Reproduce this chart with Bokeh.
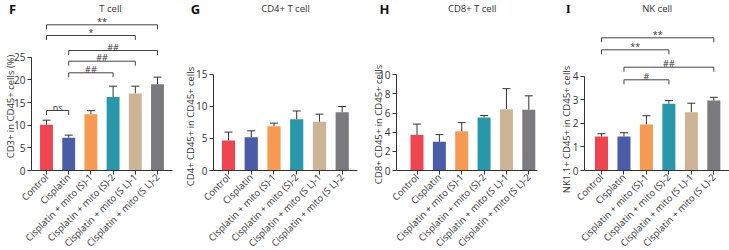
import math
from bokeh.plotting import figure
from bokeh.models import ColumnDataSource, Whisker, TeeHead, Label, Range1d, FixedTicker
from bokeh.layouts import row
from bokeh.embed import file_html
from bokeh.resources import INLINE
from bokeh.core.properties import value

# ---------------- data ----------------
categories = ["Control", "Cisplatin", "Cisplatin + mito (S)-1", "Cisplatin + mito (S)-2",
              "Cisplatin + mito (S L)-1", "Cisplatin + mito (S L)-2"]
bar_colors = ["#EF4550", "#4A5BA8", "#F79A52", "#2897A9", "#CDB496", "#7A7A7E"]

t_cell_mean = [10.1, 7.2, 12.4, 16.2, 17.0, 19.0]
t_cell_err = [1.0, 0.6, 0.8, 2.4, 1.6, 1.6]
cd4_mean = [4.7, 5.2, 6.9, 8.0, 7.6, 9.1]
cd4_err = [1.3, 1.0, 0.5, 1.3, 1.2, 0.9]
cd8_mean = [3.7, 3.0, 4.1, 5.55, 6.4, 6.35]
cd8_err = [1.15, 0.75, 0.9, 0.2, 2.15, 1.45]
nk_mean = [1.44, 1.44, 1.95, 2.83, 2.47, 2.96]
nk_err = [0.12, 0.16, 0.37, 0.13, 0.38, 0.14]

t_cell_ticks = [0, 5, 10, 15, 20, 25]
cd4_ticks = [0, 5, 10, 15]
cd8_ticks = [0, 2, 4, 6, 8, 10]
nk_ticks = [0, 1, 2, 3, 4]

# significance comparisons: (group a, group b, label)
t_cell_sig = [(0, 5, "**"), (0, 4, "*"), (1, 5, "##"), (1, 4, "##"), (1, 3, "##"), (0, 1, "ns")]
nk_sig = [(0, 5, "**"), (0, 3, "**"), (1, 5, "##"), (1, 3, "#")]

# ---------------- layout (pixels) ----------------
FONT = "Open Sans"
AXIS_Y = 170      # pixel row of the x axis (value 0)
FIG_H = 250
AX = "#333333"

t_cell_levels = [24.3, 35, 50, 60.7, 72.3, 110]   # bracket heights, px from top
nk_levels = [37.3, 49.3, 66.7, 79.3]

# L: figure left, W: width, A: y-axis x, c0: first bar centre, s: bar spacing, E: x-axis end
panels = [
    dict(letter="F", letter_font="Open Sans", title="T cell", ylabel="CD3+ in CD45+ cells (%)",
         mean=t_cell_mean, err=t_cell_err, ticks=t_cell_ticks,
         L=0, W=182, A=31, c0=46, s=22.2, E=172, yend=37.5,
         sig=t_cell_sig, levels=t_cell_levels,
         letter_xy=(12, 8), title_xy=(110, 7.5), ylab_xy=(10, 106)),
    dict(letter="G", letter_font="Open Sans", title="CD4+ T cell", ylabel="CD4+ CD45+ in CD45+ cells",
         mean=cd4_mean, err=cd4_err, ticks=cd4_ticks,
         L=182, W=183, A=213, c0=228, s=22.74, E=357, yend=26.56,
         sig=[], levels=[],
         letter_xy=(195, 8), title_xy=(285, 7.5), ylab_xy=(190, 126)),
    dict(letter="H", letter_font="Open Sans", title="CD8+ T cell", ylabel="CD8+ CD45+ in CD45+ cells",
         mean=cd8_mean, err=cd8_err, ticks=cd8_ticks,
         L=365, W=180, A=396, c0=416.5, s=22.36, E=537, yend=17.76,
         sig=[], levels=[],
         letter_xy=(384, 8), title_xy=(471.7, 7.5), ylab_xy=(378, 124)),
    dict(letter="I", letter_font="Liberation Serif", title="NK cell", ylabel="NK1.1+ CD45+ in CD45+ cells",
         mean=nk_mean, err=nk_err, ticks=nk_ticks,
         L=545, W=184, A=584, c0=601, s=22.46, E=729, yend=7.2,
         sig=nk_sig, levels=nk_levels,
         letter_xy=(567.7, 8), title_xy=(656.7, 7.5), ylab_xy=(566, 129)),
]


def make_panel(cfg):
    L, W, A, c0, s, E = cfg["L"], cfg["W"], cfg["A"], cfg["c0"], cfg["s"], cfg["E"]
    x_start = (L - c0) / s
    x_end = (L + W - c0) / s
    axis_x = (A - c0) / s
    axis_end = (E - c0) / s
    yend = cfg["yend"]
    px = yend / AXIS_Y  # data units per pixel
    y_start = -(FIG_H - AXIS_Y) * px

    p = figure(width=W, height=FIG_H,
               x_range=Range1d(x_start, x_end), y_range=Range1d(y_start, yend),
               output_backend="svg", toolbar_location=None,
               min_border_left=0, min_border_right=0,
               min_border_top=0, min_border_bottom=0)
    p.outline_line_color = None
    p.xgrid.visible = False
    p.ygrid.visible = False
    p.background_fill_color = "white"

    idx = list(range(len(categories)))
    tops = [m + e for m, e in zip(cfg["mean"], cfg["err"])]
    src = ColumnDataSource(dict(x=idx, top=cfg["mean"], upper=tops, color=bar_colors))
    p.vbar(x="x", top="top", width=0.58, bottom=0, source=src,
           fill_color="color", line_color=None)
    w = Whisker(source=src, base="x", lower="top", upper="upper", dimension="height",
                line_color=AX, line_width=1,
                upper_head=TeeHead(size=8, line_color=AX, line_width=1), lower_head=None)
    p.add_layout(w)

    # significance brackets
    tick_len = 4.5 * px
    for (a, b, lab), lvl in zip(cfg["sig"], cfg["levels"]):
        yb = (AXIS_Y - lvl) * px
        p.line(x=[a, a, b, b], y=[yb - tick_len, yb, yb, yb - tick_len],
               line_color="#444444", line_width=1)
        p.text(x=[(a + b) / 2], y=[yb + 3.5 * px], text=[lab],
               text_align="center", text_baseline="alphabetic",
               text_font=value(FONT), text_font_size="9px", text_color="#333333")

    # x axis at value 0, inside the frame
    xa = p.xaxis[0]
    xa.fixed_location = 0
    xa.ticker = FixedTicker(ticks=idx)
    xa.bounds = (axis_x, axis_end)
    xa.major_label_overrides = {i: c for i, c in enumerate(categories)}
    xa.major_label_orientation = math.pi / 4
    xa.major_label_text_font = FONT
    xa.major_label_text_font_size = "9.5px"
    xa.major_label_text_color = "#333333"
    xa.major_label_standoff = 1
    xa.major_tick_in = 0
    xa.major_tick_out = 4
    xa.minor_tick_line_color = None
    xa.axis_line_color = AX
    xa.major_tick_line_color = AX

    # y axis at a fixed x location inside the frame
    ya = p.yaxis[0]
    ya.fixed_location = axis_x
    ya.ticker = FixedTicker(ticks=cfg["ticks"])
    ya.bounds = (0, cfg["ticks"][-1])
    ya.major_label_text_font = FONT
    ya.major_label_text_font_size = "10px"
    ya.major_label_text_color = "#333333"
    ya.major_label_standoff = 2
    ya.major_tick_in = 0
    ya.major_tick_out = 4
    ya.minor_tick_line_color = None
    ya.axis_line_color = AX
    ya.major_tick_line_color = AX

    # texts (screen units relative to the frame, which fills the whole figure)
    lx, ly = cfg["letter_xy"]
    p.add_layout(Label(x=lx - L, y=FIG_H - ly, x_units="screen", y_units="screen",
                       text=cfg["letter"], text_font=cfg["letter_font"], text_font_style="bold",
                       text_font_size="13px", text_align="center", text_baseline="middle",
                       text_color="#111111"))
    tx, ty = cfg["title_xy"]
    p.add_layout(Label(x=tx - L, y=FIG_H - ty, x_units="screen", y_units="screen",
                       text=cfg["title"], text_font=FONT, text_font_size="9.5px",
                       text_align="center", text_baseline="middle", text_color="#333333"))
    yx, yy = cfg["ylab_xy"]
    p.add_layout(Label(x=yx - L, y=FIG_H - yy, x_units="screen", y_units="screen",
                       text=cfg["ylabel"], text_font=FONT, text_font_size="9.5px", angle=math.pi / 2,
                       text_align="center", text_baseline="middle", text_color="#333333"))
    return p


figs = [make_panel(c) for c in panels]
layout = row(*figs)
open("out.html", "w").write(file_html(layout, INLINE))
